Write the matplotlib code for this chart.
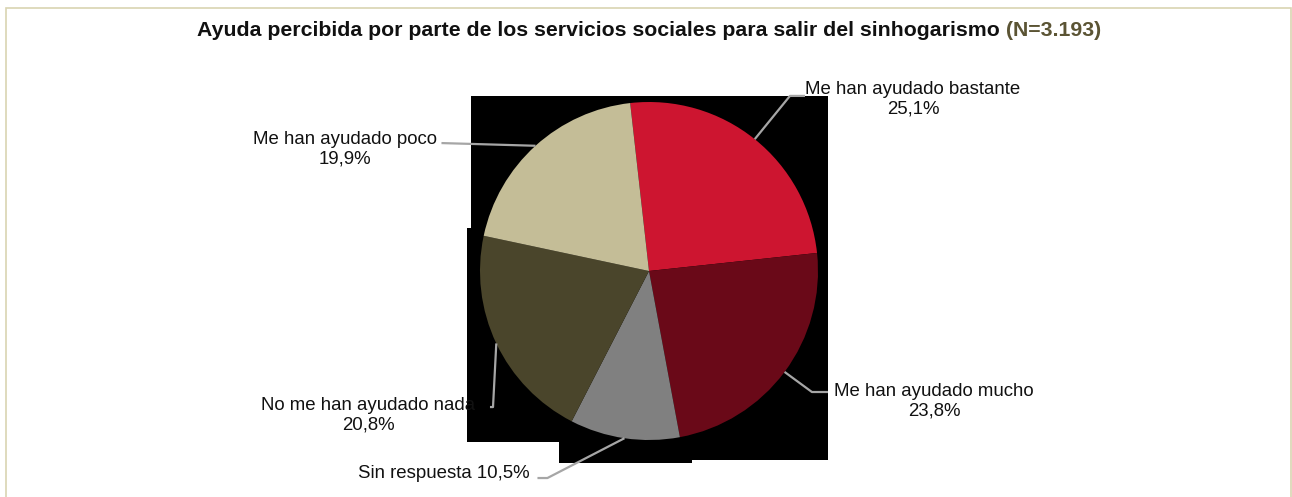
import matplotlib
matplotlib.use("Agg")
import matplotlib.pyplot as plt
import numpy as np
from matplotlib.patches import Rectangle

# ---- data ----
categories = ["Me han ayudado bastante", "Me han ayudado mucho", "Sin respuesta",
              "No me han ayudado nada", "Me han ayudado poco"]
values = [25.1, 23.8, 10.5, 20.8, 19.9]
value_labels = ["25,1%", "23,8%", "10,5%", "20,8%", "19,9%"]
colors = ["#CD1530", "#6A0918", "#808080", "#4A452B", "#C4BD97"]
title_main = "Ayuda percibida por parte de los servicios sociales para salir del sinhogarismo "
title_n = "(N=3.193)"

plt.rcParams['font.family'] = ['Liberation Sans', 'DejaVu Sans']

W, H = 1292, 497
fig = plt.figure(figsize=(W / 100, H / 100), dpi=100)

# outer frame (bottom edge lies outside the image)
fig.patches.append(Rectangle((6 / W, -0.05), (1291 - 6) / W, (H - 8) / H + 0.05,
                             transform=fig.transFigure, fill=False,
                             edgecolor="#D9D4B2", lw=1.2, zorder=-2))

# black artefact blocks behind the pie (as in the reference)
blocks = [(471, 96, 828, 250), (467, 228, 828, 442), (559, 300, 692, 463), (692, 300, 828, 460)]
for x0, y0, x1, y1 in blocks:
    fig.patches.append(Rectangle((x0 / W, 1 - y1 / H), (x1 - x0) / W, (y1 - y0) / H,
                                 transform=fig.transFigure, facecolor="black",
                                 edgecolor="none", zorder=-1))

cx, cy, r = 649, 271, 169
ax = fig.add_axes([(cx - r) / W, (H - cy - r) / H, 2 * r / W, 2 * r / H])
ax.set_zorder(1)
ax.axis("off")
ax.patch.set_alpha(0)

wedges, _ = ax.pie(values, colors=colors, startangle=96.4, counterclock=False,
                   radius=1.0, center=(0, 0), frame=False,
                   wedgeprops=dict(edgecolor="none"))
ax.set_xlim(-1, 1)
ax.set_ylim(-1, 1)
ax.set_aspect("equal")

# label layout (relative to pie center, in radius units)
# (elbow point, line end point, text position, ha, single_line)
layout = [
    ((0.834, 1.036), (0.923, 1.036), (1.562, 1.018), "center", False),
    ((0.964, -0.716), (1.059, -0.716), (1.686, -0.769), "center", False),
    ((-0.601, -1.225), (-0.660, -1.225), (-0.704, -1.201), "right", True),
    ((-0.923, -0.805), (-0.941, -0.805), (-1.663, -0.852), "center", False),
    ((-1.228, 0.757), (-1.228, 0.757), (-1.799, 0.722), "center", False),
]

fs = 13.4
for w, cat, vl, (elb, end, tp, ha, single) in zip(wedges, categories, value_labels, layout):
    mid = np.deg2rad((w.theta1 + w.theta2) / 2)
    ax0, ay0 = np.cos(mid), np.sin(mid)
    ax.plot([ax0, elb[0], end[0]], [ay0, elb[1], end[1]], color="#A6A6A6",
            lw=1.6, clip_on=False, zorder=5, solid_capstyle="butt")
    txt = f"{cat} {vl}" if single else f"{cat}\n{vl}"
    ax.text(tp[0], tp[1], txt, ha=ha, va="center", fontsize=fs, color="#111111",
            multialignment="center", clip_on=False, zorder=6)

# title in two colours
tfs = 15.3
renderer = fig.canvas.get_renderer()
t1 = fig.text(0, 0, title_main, fontsize=tfs, fontweight="bold", color="#111111")
t2 = fig.text(0, 0, title_n, fontsize=tfs, fontweight="bold", color="#5B5434")
w1 = t1.get_window_extent(renderer).width
w2 = t2.get_window_extent(renderer).width
x_start = 649 - (w1 + w2) / 2
ty = 1 - 30 / H
t1.set_position((x_start / W, ty)); t1.set_va("center")
t2.set_position(((x_start + w1) / W, ty)); t2.set_va("center")

fig.savefig("out.png", dpi=100)
